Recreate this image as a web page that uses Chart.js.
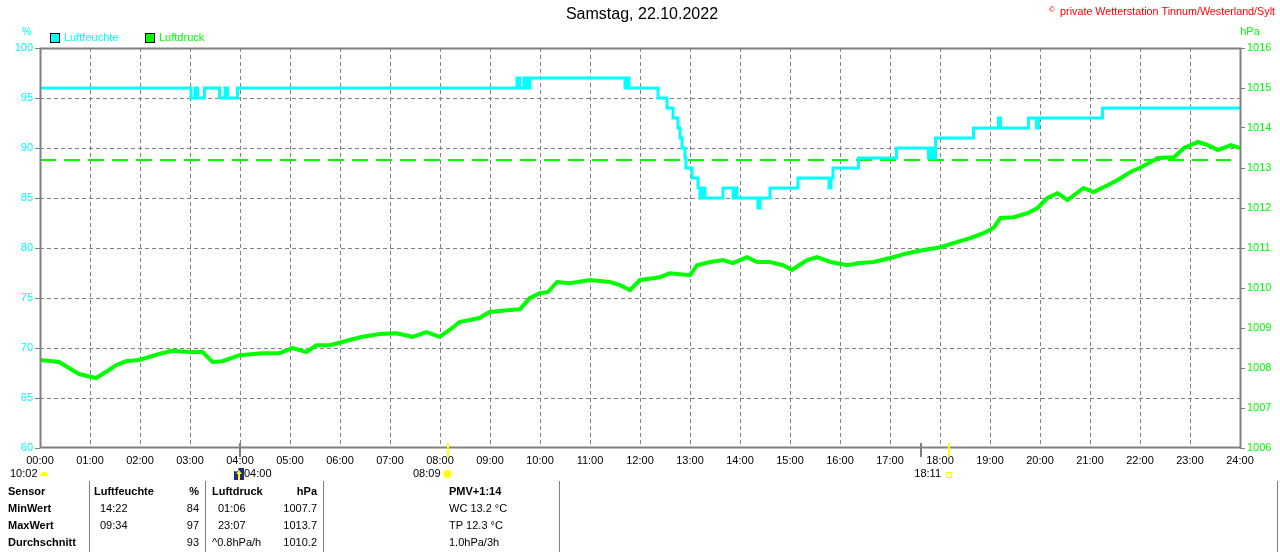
<!DOCTYPE html>
<html><head><meta charset="utf-8">
<script src="https://cdn.jsdelivr.net/npm/chart.js@4"></script>
<style>html,body{margin:0;padding:0;background:#fff;overflow:hidden}canvas{display:block}</style>
</head><body>
<canvas id="c" width="1280" height="552"></canvas>
<script>
// ---------- DATA ----------
const titleText = 'Samstag, 22.10.2022';
const copyrightText = 'private Wetterstation Tinnum/Westerland/Sylt';
const hourLabels = ['00:00','01:00','02:00','03:00','04:00','05:00','06:00','07:00','08:00','09:00','10:00','11:00','12:00',
  '13:00','14:00','15:00','16:00','17:00','18:00','19:00','20:00','21:00','22:00','23:00','24:00'];
const humidityTicks = [60,65,70,75,80,85,90,95,100];
const pressureTicks = [1006,1007,1008,1009,1010,1011,1012,1013,1014,1015,1016];

const humidityHours = [0,3.02,3.1,3.15,3.29,3.59,3.7,3.75,3.95,4.05,9.54,9.6,9.68,9.74,9.8,11.7,11.74,11.78,12.36,12.54,12.66,12.76,12.8,12.84,12.9,12.92,
  13.04,13.16,13.2,13.24,13.3,13.66,13.86,13.9,13.94,14.36,14.4,14.6,15.16,15.78,15.82,15.86,16.37,17.13,17.77,17.81,17.85,17.91,18.67,19.17,19.21,
  19.77,19.93,19.97,21.25,24];
const humidityValues = [96,95,96,95,96,95,96,95,96,96,97,96,97,96,97,96,97,96,95,94,93,92,91,90,89,88,
  87,86,85,86,85,86,85,86,85,84,85,86,87,86,87,88,89,90,89,90,89,91,92,93,92,
  93,92,93,94,94];

const pressureHours = [0,0.38,0.58,0.78,1.12,1.38,1.52,1.72,1.98,2.38,2.64,2.98,3.25,3.45,3.65,3.99,4.45,4.79,5.05,5.33,5.53,5.79,5.99,6.19,6.45,6.79,
  7.13,7.45,7.73,7.99,8.19,8.39,8.59,8.79,8.99,9.4,9.6,9.8,10.0,10.16,10.34,10.6,11.0,11.4,11.6,11.8,12.0,12.4,12.6,13.0,13.14,13.4,13.66,13.86,
  14.14,14.34,14.6,14.86,15.04,15.34,15.54,15.81,16.15,16.35,16.67,17.01,17.35,17.67,18.01,18.27,18.61,18.87,19.07,19.21,19.47,19.75,19.95,
  20.15,20.35,20.55,20.87,21.07,21.35,21.55,21.81,22.02,22.36,22.68,22.88,23.16,23.36,23.56,23.82,24];
const pressureValues = [1008.2,1008.15,1008.0,1007.85,1007.75,1007.95,1008.07,1008.17,1008.2,1008.35,1008.43,1008.4,1008.4,1008.15,1008.17,1008.32,
  1008.37,1008.37,1008.5,1008.4,1008.57,1008.57,1008.63,1008.7,1008.78,1008.85,1008.87,1008.78,1008.9,1008.78,1008.95,1009.15,1009.2,1009.25,
  1009.4,1009.45,1009.47,1009.75,1009.87,1009.9,1010.15,1010.12,1010.2,1010.15,1010.07,1009.95,1010.2,1010.27,1010.37,1010.32,1010.57,1010.65,
  1010.7,1010.62,1010.77,1010.65,1010.65,1010.57,1010.45,1010.7,1010.77,1010.65,1010.57,1010.62,1010.65,1010.75,1010.87,1010.95,1011.02,
  1011.12,1011.25,1011.37,1011.5,1011.75,1011.77,1011.87,1012.0,1012.25,1012.37,1012.2,1012.5,1012.4,1012.57,1012.7,1012.9,1013.02,1013.25,
  1013.27,1013.5,1013.65,1013.57,1013.45,1013.57,1013.5];

const referencePressure = 1013.2;
const referenceHours = [0, 23.82];

// axis markers (hours): moon rise, sunrise, moon set, sunset
const markerHours = [4.0, 8.15, 17.62, 18.18];
const markerKinds = ['moon','sun','moon','sun'];

// info labels below the axis
const infoTexts = ['10:02','04:00','08:09','18:11'];
const infoHours = [0, 4.0, 8.15, 18.18];

// statistics table
const tableHeader = ['Sensor','Luftfeuchte','%','Luftdruck','hPa','PMV+1:14'];
const rowNames = ['MinWert','MaxWert','Durchschnitt'];
const humTimes = ['14:22','09:34',''];
const humStats = ['84','97','93'];
const presTimes = ['01:06','23:07','^0.8hPa/h'];
const presStats = ['1007.7','1013.7','1010.2'];
const pmvTexts = ['WC 13.2 °C','TP 12.3 °C','1.0hPa/3h'];

// ---------- RENDER ----------
const FONT = '"Liberation Sans", Arial, sans-serif';
Chart.defaults.font.family = FONT;
const CYAN = '#00ffff', GREEN = '#00ff00', GRAY = '#808080', YELLOW = '#ffff00';

function text(ctx, s, x, y, o = {}) {
  ctx.save();
  ctx.font = (o.bold ? 'bold ' : '') + (o.size || 11) + 'px ' + FONT;
  ctx.fillStyle = o.color || '#000';
  ctx.textAlign = o.align || 'left';
  ctx.textBaseline = 'middle';
  ctx.fillText(s, x, y);
  ctx.restore();
}

const decor = {
  id: 'decor',
  afterDraw(chart) {
    const ctx = chart.ctx;
    const a = chart.chartArea;
    const xs = chart.scales.x;
    // frame
    ctx.save();
    ctx.strokeStyle = GRAY; ctx.lineWidth = 2;
    ctx.strokeRect(a.left + 0.5, a.top + 0.5, a.right - a.left, a.bottom - a.top - 1);
    ctx.restore();
    // title & copyright
    text(ctx, titleText, 642, 15, {size: 16, align: 'center'});
    ctx.save();
    ctx.font = '12px ' + FONT;
    const w12 = ctx.measureText(copyrightText).width;
    ctx.restore();
    const cs = 12 * 215 / w12;
    text(ctx, copyrightText, 1275, 12, {size: cs, color: '#ff0000', align: 'right'});
    text(ctx, '©', 1052, 10, {size: 8, color: '#ff0000', align: 'center'});
    // units
    text(ctx, '%', 27, 32, {color: CYAN, align: 'center'});
    text(ctx, 'hPa', 1250, 32, {color: GREEN, align: 'center'});
    // legend
    ctx.save();
    ctx.lineWidth = 1; ctx.strokeStyle = '#000';
    ctx.fillStyle = CYAN; ctx.fillRect(50, 33, 10, 10); ctx.strokeRect(50.5, 33.5, 9, 9);
    ctx.fillStyle = GREEN; ctx.fillRect(145, 33, 10, 10); ctx.strokeRect(145.5, 33.5, 9, 9);
    ctx.restore();
    text(ctx, 'Luftfeuchte', 64, 38, {color: CYAN});
    text(ctx, 'Luftdruck', 159, 38, {color: GREEN});
    // markers on x axis
    markerHours.forEach((h, i) => {
      const px = Math.round(xs.getPixelForValue(h));
      ctx.save();
      ctx.strokeStyle = markerKinds[i] === 'sun' ? YELLOW : GRAY;
      ctx.lineWidth = 2;
      ctx.beginPath(); ctx.moveTo(px, a.bottom - 5); ctx.lineTo(px, a.bottom + 9); ctx.stroke();
      ctx.restore();
    });
    // info row
    const iy = 474;
    text(ctx, infoTexts[0], 10, iy);
    ctx.save(); ctx.fillStyle = YELLOW;
    ctx.beginPath(); ctx.arc(44, iy + 2, 4, Math.PI, 0); ctx.closePath(); ctx.fill(); ctx.restore();
    const mx = xs.getPixelForValue(infoHours[1]);
    ctx.save();
    ctx.fillStyle = '#1c2a80'; ctx.fillRect(mx - 6, iy - 6, 10, 12);
    ctx.fillStyle = '#ffffff'; ctx.beginPath(); ctx.arc(mx - 4, iy - 5, 2.5, 0, Math.PI * 2); ctx.fill();
    ctx.fillStyle = YELLOW; ctx.beginPath();
    ctx.moveTo(mx - 1, iy - 4); ctx.lineTo(mx + 2, iy); ctx.lineTo(mx - 4, iy); ctx.closePath(); ctx.fill();
    ctx.fillRect(mx - 2, iy, 2, 6);
    ctx.restore();
    text(ctx, infoTexts[1], mx + 4, iy);
    const sx = xs.getPixelForValue(infoHours[2]);
    text(ctx, infoTexts[2], sx - 7, iy, {align: 'right'});
    ctx.save();
    ctx.strokeStyle = '#ffff99'; ctx.lineWidth = 1;
    for (let k = 0; k < 8; k++) {
      const ang = k * Math.PI / 4;
      ctx.beginPath(); ctx.moveTo(sx + Math.cos(ang) * 5, iy + Math.sin(ang) * 5);
      ctx.lineTo(sx + Math.cos(ang) * 7, iy + Math.sin(ang) * 7); ctx.stroke();
    }
    ctx.fillStyle = YELLOW; ctx.beginPath(); ctx.arc(sx, iy, 4, 0, Math.PI * 2); ctx.fill();
    ctx.restore();
    const ux = xs.getPixelForValue(infoHours[3]);
    text(ctx, infoTexts[3], ux - 8, iy, {align: 'right'});
    ctx.save(); ctx.strokeStyle = YELLOW; ctx.lineWidth = 1;
    ctx.strokeRect(ux - 2.5, iy - 1.5, 5, 5); ctx.restore();
    // table separators
    ctx.save(); ctx.strokeStyle = GRAY; ctx.lineWidth = 1;
    [89.5, 205.5, 323.5, 559.5, 1277.5].forEach(x => {
      ctx.beginPath(); ctx.moveTo(x, 481); ctx.lineTo(x, 552); ctx.stroke();
    });
    ctx.restore();
    // table
    const rows = [492, 509, 526, 543];
    text(ctx, tableHeader[0], 8, rows[0], {bold: true});
    text(ctx, tableHeader[1], 94, rows[0], {bold: true});
    text(ctx, tableHeader[2], 199, rows[0], {bold: true, align: 'right'});
    text(ctx, tableHeader[3], 212, rows[0], {bold: true});
    text(ctx, tableHeader[4], 317, rows[0], {bold: true, align: 'right'});
    text(ctx, tableHeader[5], 449, rows[0], {bold: true});
    rowNames.forEach((n, i) => {
      const y = rows[i + 1];
      text(ctx, n, 8, y, {bold: true});
      text(ctx, humTimes[i], 100, y);
      text(ctx, humStats[i], 199, y, {align: 'right'});
      text(ctx, presTimes[i], i === 2 ? 212 : 218, y);
      text(ctx, presStats[i], 317, y, {align: 'right'});
      text(ctx, pmvTexts[i], 449, y);
    });
  }
};

const toXY = (hs, vs) => hs.map((h, i) => ({x: h, y: vs[i]}));

new Chart(document.getElementById('c'), {
  type: 'line',
  data: {
    datasets: [
      {label: 'Luftfeuchte', data: toXY(humidityHours, humidityValues), yAxisID: 'yH', stepped: true,
        borderColor: CYAN, borderWidth: 3, pointRadius: 0, order: 0},
      {label: 'Ref', data: referenceHours.map(h => ({x: h, y: referencePressure})), yAxisID: 'yP',
        borderColor: GREEN, borderWidth: 2, borderDash: [16, 8], pointRadius: 0, order: 1},
      {label: 'Luftdruck', data: toXY(pressureHours, pressureValues), yAxisID: 'yP',
        borderColor: GREEN, borderWidth: 4, pointRadius: 0, order: 2}
    ]
  },
  options: {
    responsive: false, devicePixelRatio: 1, animation: false, events: [],
    layout: {padding: {top: 48, left: 0, right: 0, bottom: 0}},
    plugins: {legend: {display: false}, tooltip: {enabled: false}},
    scales: {
      x: {
        type: 'linear', min: 0, max: 24,
        afterBuildTicks: s => { s.ticks = hourLabels.map((l, i) => ({value: i})); },
        ticks: {callback: v => hourLabels[v], color: '#000', font: {size: 11}, padding: 6, maxRotation: 0, autoSkip: false},
        grid: {color: c => (c.tick && (c.tick.value === 0 || c.tick.value === 24)) ? 'rgba(0,0,0,0)' : GRAY, lineWidth: 1, drawTicks: false},
        border: {display: false, dash: [4, 3]},
        afterFit: s => { s.height = 104; }
      },
      yH: {
        type: 'linear', position: 'left', min: 60, max: 100,
        afterBuildTicks: s => { s.ticks = humidityTicks.map(v => ({value: v})); },
        ticks: {color: CYAN, font: {size: 11}, padding: 2, callback: v => String(v)},
        grid: {color: c => (c.tick && (c.tick.value === 60 || c.tick.value === 100)) ? 'rgba(0,0,0,0)' : GRAY,
          tickColor: GRAY, tickLength: 5, lineWidth: 1},
        border: {display: false, dash: [4, 3]},
        afterFit: s => { s.width = 40; }
      },
      yP: {
        type: 'linear', position: 'right', min: 1006, max: 1016,
        afterBuildTicks: s => { s.ticks = pressureTicks.map(v => ({value: v})); },
        ticks: {color: GREEN, font: {size: 11}, padding: 2, callback: v => String(v)},
        grid: {drawOnChartArea: false, tickColor: GRAY, tickLength: 5},
        border: {display: false},
        afterFit: s => { s.width = 40; }
      }
    }
  },
  plugins: [decor]
});
</script>
</body></html>
